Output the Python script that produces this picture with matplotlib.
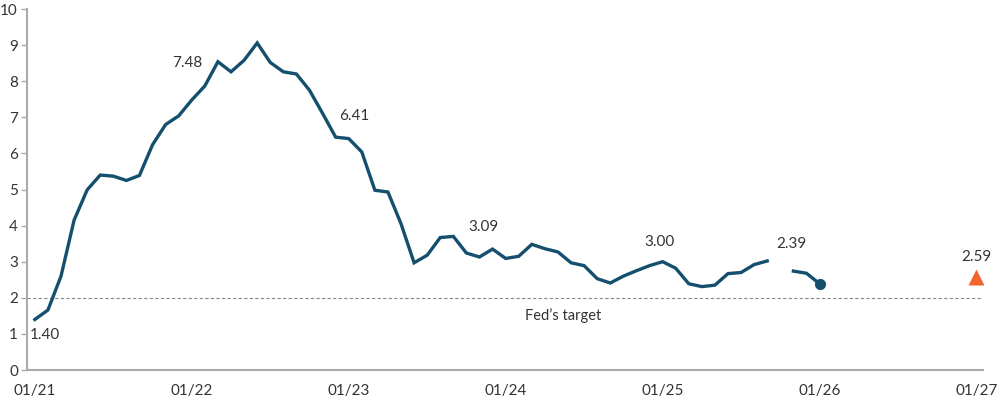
import numpy as np
import matplotlib
matplotlib.use("Agg")
import matplotlib.pyplot as plt

plt.rcParams['font.family'] = ['Lato', 'DejaVu Sans']

# Monthly CPI YoY (%), Jan 2021 .. Jan 2026 (Oct 2025 missing)
cpi = [1.40, 1.66, 2.60, 4.15, 4.99, 5.40, 5.37, 5.25, 5.39, 6.24, 6.80, 7.04,
       7.48, 7.87, 8.54, 8.26, 8.58, 9.06, 8.52, 8.26, 8.20, 7.75, 7.11, 6.45,
       6.41, 6.04, 4.98, 4.93, 4.05, 2.97, 3.18, 3.67, 3.70, 3.24, 3.13, 3.35,
       3.09, 3.15, 3.48, 3.36, 3.27, 2.97, 2.89, 2.53, 2.41, 2.60, 2.75, 2.89,
       3.00, 2.82, 2.39, 2.31, 2.35, 2.67, 2.70, 2.92, 3.02, np.nan, 2.74, 2.68,
       2.39]
forecast_month = 72
forecast_value = 2.59
fed_target = 2.0
tick_labels = ["01/21", "01/22", "01/23", "01/24", "01/25", "01/26", "01/27"]
label_months = [0, 12, 24, 36, 48, 60]
label_offsets = [(10, -16), (-5, 37), (6, 23), (-22, 31), (-3, 20), (-28, 40)]

months = np.arange(len(cpi))
vals = np.array(cpi, dtype=float)

fig = plt.figure(figsize=(10, 4), dpi=100)
ax = fig.add_axes([0.027, 0.075, 0.956, 0.9025])

line_color = '#154f6e'
text_color = '#333333'
fs = 10.5
ax.plot(months, vals, color=line_color, lw=2.4, solid_joinstyle='miter', zorder=3)
ax.plot(months[-1], vals[-1], 'o', color=line_color, ms=7, zorder=4)
ax.plot(forecast_month, forecast_value, '^', color='#f26430', ms=11, mec='none', zorder=4)

ax.axhline(fed_target, color='#888888', lw=0.8, ls=(0, (3, 2)), zorder=1)
ax.text(40.4, 1.52, "Fed\u2019s target", ha='center', va='center', fontsize=fs, color=text_color)

for m, (dx, dy) in zip(label_months, label_offsets):
    ax.annotate(f"{vals[m]:.2f}", (m, vals[m]), xytext=(dx, dy), textcoords='offset pixels',
                ha='center', va='center', fontsize=fs + 0.5, color=text_color)
ax.annotate(f"{forecast_value:.2f}", (forecast_month, forecast_value), xytext=(0, 20),
            textcoords='offset pixels', ha='center', va='center', fontsize=fs + 0.5, color=text_color)

ax.set_xlim(-0.6, 72.5)
ax.set_ylim(0, 10)
ax.set_xticks(np.arange(0, 73, 12))
ax.set_xticklabels(tick_labels)
ax.set_yticks(np.arange(0, 11, 1))
for s in ['top', 'right']:
    ax.spines[s].set_visible(False)
for s in ['left', 'bottom']:
    ax.spines[s].set_color('#aaaaaa')
    ax.spines[s].set_linewidth(1.5)
ax.tick_params(axis='x', length=0, pad=10, labelsize=fs + 0.5, labelcolor=text_color)
ax.tick_params(axis='y', length=4, width=1, color='#aaaaaa', pad=2.5, labelsize=fs + 0.5, labelcolor=text_color)

fig.savefig("out.png", dpi=100)
